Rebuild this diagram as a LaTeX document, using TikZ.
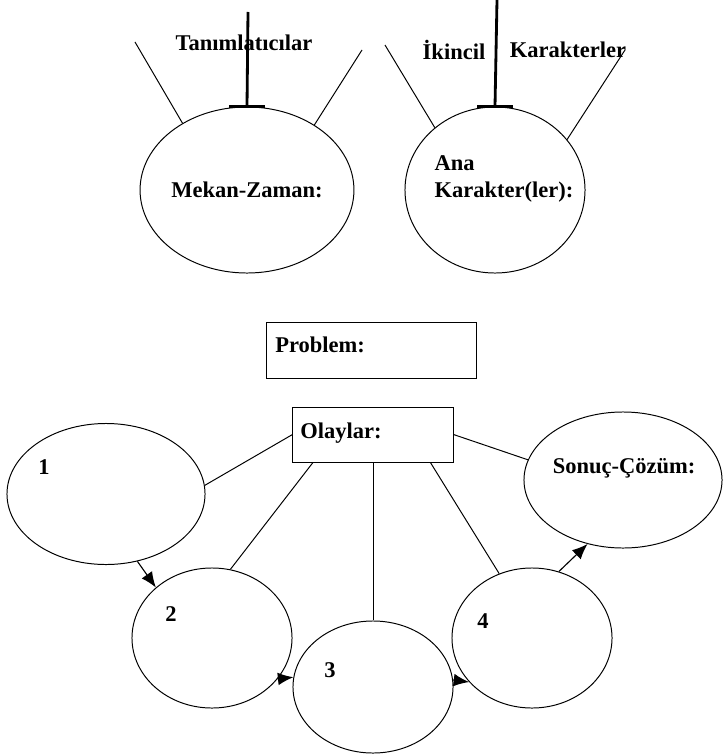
\documentclass[tikz,border=0pt]{standalone}
\usepackage{fontspec}
\setmainfont{Liberation Serif}
\usetikzlibrary{shapes.geometric,arrows.meta}
\begin{document}
\begin{tikzpicture}[x=0.025cm,y=-0.025cm,
  every node/.style={font=\fontsize{16}{19}\selectfont\bfseries},
  bubble/.style={draw,ellipse,line width=0.7pt,inner sep=0pt},
  box/.style={draw,rectangle,line width=0.7pt,inner sep=0pt},
  txt/.style={inner sep=0pt},
  conn/.style={line width=0.7pt},
  stem/.style={line width=2pt},
  flow/.style={line width=0.8pt,-{Latex[length=11pt,width=9pt]}}]
  \useasboundingbox (0,0) rectangle (723,755);

  % setting and characters
  \node[bubble,minimum width=4.5cm,minimum height=4.15cm] (mekan) at (247,190) {Mekan-Zaman:};
  \node[bubble,minimum width=4.5cm,minimum height=4.15cm] (ana) at (495,190) {};
  \node[txt,align=left] (analbl) at (504,179) {Ana\\Karakter(ler):};

  \coordinate (m1) at (135,42);
  \coordinate (m2) at (248,12);
  \coordinate (m3) at (362,50);
  \node[txt] (tanim) at (244,43) {Tanımlatıcılar};
  \draw[conn] (m1) -- (mekan.134);
  \draw[stem] (m2) -- (mekan.north);
  \draw[conn] (m3) -- (mekan.44);
  \draw[stem] ([xshift=-0.45cm]mekan.north) -- ([xshift=0.45cm]mekan.north);

  \coordinate (a1) at (385,45);
  \coordinate (a2) at (497,0);
  \coordinate (a3) at (625,50);
  \node[txt] (ikincil) at (454,50) {İkincil};
  \node[txt] (karakter) at (568,50) {Karakterler};
  \draw[conn] (a1) -- (ana.134);
  \draw[stem] (a2) -- (ana.north);
  \draw[conn] (a3) -- (ana.35);
  \draw[stem] ([xshift=-0.45cm]ana.north) -- ([xshift=0.45cm]ana.north);

  % problem and events
  \node[box,minimum width=5.225cm,minimum height=1.4cm] (prob) at (371.5,350) {};
  \node[txt,anchor=west] (problbl) at (275,345) {Problem:};
  \node[box,minimum width=4cm,minimum height=1.375cm] (olay) at (373,434.5) {};
  \node[txt,anchor=west] (olaylbl) at (300,433) {Olaylar:};

  \node[bubble,minimum width=4.95cm,minimum height=3.525cm] (e1) at (106,494) {};
  \node[bubble,minimum width=4cm,minimum height=3.5cm] (e2) at (212,638) {};
  \node[bubble,minimum width=4cm,minimum height=3.3cm] (e3) at (373,687) {};
  \node[bubble,minimum width=4cm,minimum height=3.5cm] (e4) at (532,638) {};
  \node[bubble,minimum width=4.95cm,minimum height=3.4cm] (sonuc) at (623,480) {};
  \node[txt] (sonuclbl) at (624,468) {Sonuç-Çözüm:};
  \node[txt] (n1) at (44,467) {1};
  \node[txt] (n2) at (171,614) {2};
  \node[txt] (n3) at (330,670) {3};
  \node[txt] (n4) at (483,621) {4};

  \draw[conn] (olay.west) -- (e1.5);
  \draw[conn] (olay.205) -- (e2.75);
  \draw[conn] (olay.south) -- (e3.north);
  \draw[conn] (olay.334) -- (e4.117);
  \draw[conn] (olay.east) -- (sonuc.168);

  \draw[flow] (e1.295) -- (e2.138);
  \draw[flow] (e2.328) -- (e3.173);
  \draw[flow] (e3.5) -- (e4.215);
  \draw[flow] (e4.68) -- (sonuc.241);
\end{tikzpicture}
\end{document}
